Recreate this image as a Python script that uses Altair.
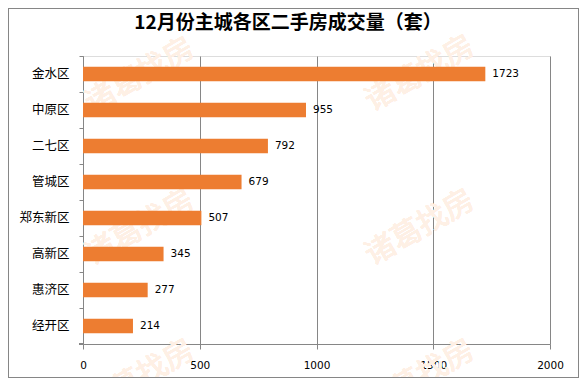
import altair as alt
import pandas as pd

# ---- data ----
districts = ["金水区", "中原区", "二七区", "管城区", "郑东新区", "高新区", "惠济区", "经开区"]
volumes = [1723, 955, 792, 679, 507, 345, 277, 214]
x_ticks = [0, 500, 1000, 1500, 2000]
title_text = "12月份主城各区二手房成交量（套）"
watermark_text = "诸葛找房"

# decorative watermark placement (pixels, relative to plot area)
wm_x = [57, 337, 57, 337, 57, 337]
wm_y = [20, 18, 172, 172, 322, 322]

df = pd.DataFrame({"district": districts, "volume": volumes})

W, H = 467, 288
PAD = {"left": 75, "top": 48, "right": 29, "bottom": 34}
GRAY = "#868686"
CJK = "Noto Sans CJK SC"
NUM = "DejaVu Sans"

base = alt.Chart(df)

y_enc = alt.Y(
    "district:N",
    sort=districts,
    title=None,
    scale=alt.Scale(paddingInner=0, paddingOuter=0),
    axis=alt.Axis(
        bandPosition=0,
        domainColor=GRAY,
        tickColor=GRAY,
        tickSize=4,
        labelFont=CJK,
        labelFontSize=12.5,
        labelColor="#000000",
        labelPadding=10,
        grid=False,
    ),
)
x_enc = alt.X(
    "volume:Q",
    title=None,
    scale=alt.Scale(domain=[0, 2000], nice=False),
    axis=alt.Axis(
        values=x_ticks,
        format="d",
        grid=True,
        gridColor=GRAY,
        gridOpacity=1,
        domainColor=GRAY,
        tickColor=GRAY,
        tickSize=5,
        labelFont=NUM,
        labelFontSize=10.5,
        labelColor="#000000",
        labelPadding=11,
        labelFlush=False,
        labelOverlap=False,
    ),
)

layers = []
for wx, wy in zip(wm_x, wm_y):
    layers.append(
        alt.Chart(df).mark_text(
            text=watermark_text, angle=330, font=CJK, fontSize=30,
            fontWeight="normal", color="#FEF0E5", align="center", baseline="middle",
        ).encode(x=alt.value(wx), y=alt.value(wy))
    )

bars = base.mark_bar(color="#ED7D31", size=14.4).encode(x=x_enc, y=y_enc)
labels = base.mark_text(
    align="left", baseline="middle", dx=7, font=NUM, fontSize=10.5, color="#000000"
).encode(
    x=alt.X("volume:Q"),
    y=alt.Y("district:N", sort=districts),
    text=alt.Text("volume:Q"),
)
bottom_tick = base.mark_rule(color=GRAY).encode(
    x=alt.value(-4), x2=alt.value(0), y=alt.value(H)
)
border = base.mark_rect(fillOpacity=0, stroke=GRAY, strokeWidth=1).encode(
    x=alt.value(-PAD["left"] + 0.5),
    x2=alt.value(W + PAD["right"] - 0.5),
    y=alt.value(-PAD["top"] + 0.5),
    y2=alt.value(H + PAD["bottom"] - 0.5),
)
title = alt.Chart(pd.DataFrame({"t": [title_text]})).mark_text(
    font=CJK, fontSize=19, fontWeight="bold", color="#000000",
    align="center", baseline="middle",
).encode(x=alt.value(205), y=alt.value(-33), text="t:N")

chart = alt.layer(*layers, bars, labels, bottom_tick, border, title).properties(
    width=W,
    height=H,
    padding=PAD,
    autosize=alt.AutoSizeParams(type="none"),
).configure_view(strokeWidth=0).configure(background="white")

chart.save("out.html", embed_options={"renderer": "svg", "actions": False})
